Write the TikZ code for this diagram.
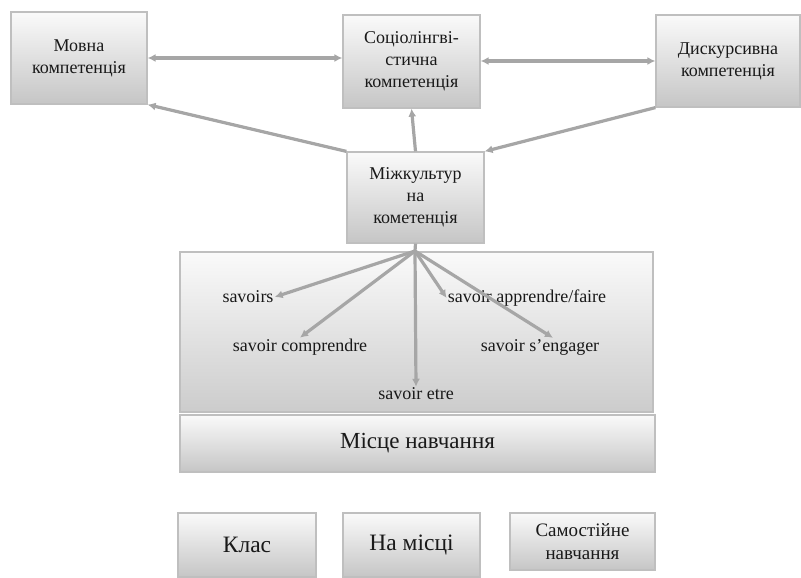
\documentclass[tikz,border=0pt]{standalone}
\usepackage{fontspec}
\setmainfont{Liberation Serif}
\usetikzlibrary{arrows.meta}

\begin{document}
\begin{tikzpicture}[x=1pt,y=-1pt,
  box/.style={draw=gray!50,line width=1.2pt,top color=gray!4,bottom color=gray!45,
    align=center,inner sep=0pt,text=black!90,font=\fontsize{18}{22}\selectfont},
  link/.style={draw=gray!70,line width=3.2pt,-{Latex[length=8pt,width=8pt]}},
  both/.style={link,{Latex[length=8pt,width=8pt]}-{Latex[length=8pt,width=8pt]}},
  lbl/.style={text=black!90,font=\fontsize{18}{22}\selectfont,inner sep=1pt}]
\useasboundingbox (0,0) rectangle (801,578);
% competences
\node[box,minimum width=136pt,minimum height=92pt] (movna) at (79,58) {Мовна\\компетенція};
\node[box,minimum width=137pt,minimum height=93pt] (socio) at (411.5,61.5) {Соціолінгві-\\стична\\компетенція};
\node[box,minimum width=144pt,minimum height=92pt] (disc) at (728,61) {Дискурсивна\\компетенція};
\node[box,minimum width=137pt,minimum height=91pt] (mizh) at (415.5,197.5) {Міжкультур\\на\\кометенція};
% savoirs + place
\node[box,top color=gray!4,bottom color=gray!40,minimum width=473pt,minimum height=160pt] (sav) at (416.5,332) {};
\node[box,minimum width=475pt,minimum height=57pt,font=\fontsize{23}{27}\selectfont] (misce) at (417.5,443.5) {Місце навчання};
\node[box,minimum width=138pt,minimum height=64pt,font=\fontsize{23.5}{27}\selectfont] (klas) at (247,545) {Клас};
\node[box,minimum width=137pt,minimum height=64pt,font=\fontsize{23.5}{27}\selectfont] (namisci) at (411.5,545) {На місці};
\node[box,minimum width=145pt,minimum height=57pt,font=\fontsize{19}{23}\selectfont] (samo) at (582.5,541.5) {Самостійне\\навчання};
\node[lbl] (s1) at (248,297) {savoirs};
\node[lbl] (s2) at (300,347) {savoir comprendre};
\node[lbl] (s3) at (416,394) {savoir etre};
\node[lbl] (s4) at (527,298) {savoir apprendre/faire};
\node[lbl] (s5) at (540,347) {savoir s’engager};
% arrows
\draw[both] (movna.east) -- (movna.east -| socio.west);
\draw[both] (disc.west) -- (disc.west -| socio.east);
\draw[link] (mizh.north west) -- (movna.south east);
\draw[link] (mizh.north) -- (socio.south);
\draw[link] (disc.south west) -- (mizh.north east);
\coordinate (fan) at (415,251);
\draw[draw=gray!70,line width=3.2pt] (mizh.south) -- (fan);
\draw[link] (fan) -- (s1.east);
\draw[link] (fan) -- (s2.north);
\draw[link] (fan) -- (s3.north);
\draw[link] (fan) -- (s4.west);
\draw[link] (fan) -- ([xshift=13pt]s5.north);
\end{tikzpicture}
\end{document}
